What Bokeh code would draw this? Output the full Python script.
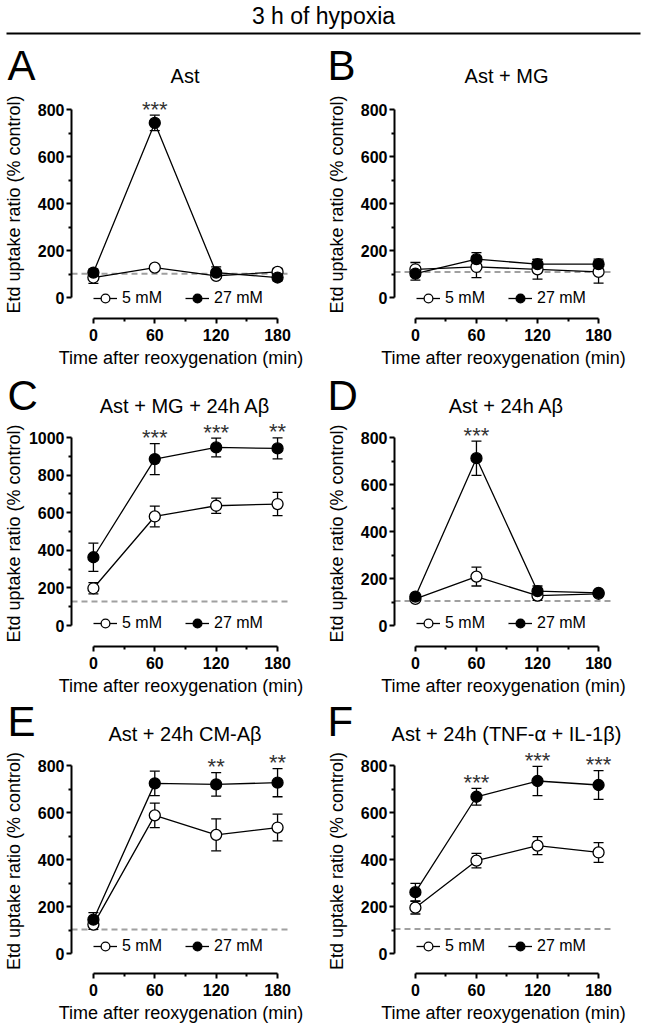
from bokeh.plotting import figure
from bokeh.models import (Range1d, FixedTicker, Label, Span, Whisker, TeeHead,
                          ColumnDataSource, Legend, LegendItem)
from bokeh.layouts import column, row
from bokeh.embed import file_html
from bokeh.resources import INLINE

FONT = "Liberation Sans"

# ---------------- data ----------------
header_text = "3 h of hypoxia"
times = [0, 60, 120, 180]
x_ticks = [0, 60, 120, 180]
x_minor = [30, 90, 150]
y_ticks_800 = [0, 200, 400, 600, 800]
y_minor_800 = [100, 300, 500, 700]
y_ticks_1000 = [0, 200, 400, 600, 800, 1000]
y_minor_1000 = [100, 300, 500, 700, 900]
series_labels = ["5 mM", "27 mM"]
letters = ["A", "B", "C", "D", "E", "F"]
titles = ["Ast", "Ast + MG", "Ast + MG + 24h A\u03b2", "Ast + 24h A\u03b2",
          "Ast + 24h CM-A\u03b2", "Ast + 24h (TNF-\u03b1 + IL-1\u03b2)"]
x_label = "Time after reoxygenation (min)"
y_label = "Etd uptake ratio (% control)"

A_5_mean = [85, 127, 92, 109]
A_5_sem = [25, 6, 10, 15]
A_27_mean = [106, 743, 106, 85]
A_27_sem = [15, 33, 24, 14]
A_ctrl = 101
A_stars = ["", "***", "", ""]

B_5_mean = [120, 130, 120, 109]
B_5_sem = [29, 45, 42, 48]
B_27_mean = [102, 163, 142, 142]
B_27_sem = [28, 28, 20, 21]
B_ctrl = 108
B_stars = ["", "", "", ""]

C_5_mean = [198, 580, 637, 646]
C_5_sem = [30, 55, 41, 62]
C_27_mean = [363, 885, 947, 942]
C_27_sem = [75, 82, 50, 56]
C_ctrl = 127
C_stars = ["", "***", "***", "**"]

D_5_mean = [113, 208, 127, 135]
D_5_sem = [10, 40, 20, 8]
D_27_mean = [123, 712, 146, 139]
D_27_sem = [8, 73, 22, 8]
D_ctrl = 104
D_stars = ["", "***", "", ""]

E_5_mean = [123, 588, 505, 536]
E_5_sem = [20, 52, 68, 57]
E_27_mean = [144, 724, 720, 727]
E_27_sem = [30, 52, 50, 60]
E_ctrl = 102
E_stars = ["", "", "**", "**"]

F_5_mean = [195, 395, 459, 430]
F_5_sem = [27, 31, 38, 42]
F_27_mean = [261, 667, 734, 717]
F_27_sem = [37, 36, 62, 61]
F_ctrl = 104
F_stars = ["", "***", "***", "***"]

panels = [
    (A_5_mean, A_5_sem, A_27_mean, A_27_sem, A_ctrl, A_stars, 800),
    (B_5_mean, B_5_sem, B_27_mean, B_27_sem, B_ctrl, B_stars, 800),
    (C_5_mean, C_5_sem, C_27_mean, C_27_sem, C_ctrl, C_stars, 1000),
    (D_5_mean, D_5_sem, D_27_mean, D_27_sem, D_ctrl, D_stars, 800),
    (E_5_mean, E_5_sem, E_27_mean, E_27_sem, E_ctrl, E_stars, 800),
    (F_5_mean, F_5_sem, F_27_mean, F_27_sem, F_ctrl, F_stars, 800),
]

# ---------------- layout geometry (page pixels) ----------------
COLS = [
    dict(fl=0, frl=70, x0=92, x1=277, frr=290, fr=323, lx=7),
    dict(fl=323, frl=393, x0=414, x1=598, frr=612, fr=646, lx=327),
]
# strip = title strip (top..bottom); the panel frame starts at the strip bottom
# let_c / tit_c: vertical centres of the letter / title
ROWS = [
    dict(st=40, sb=90, ym=109, y0=297, frb=318, fb=371, lg=9, let_c=65, tit_c=75),
    dict(st=371, sb=420, ym=437, y0=625, frb=646, fb=699, lg=12, let_c=395, tit_c=405),
    dict(st=699, sb=748, ym=765, y0=953, frb=973, fb=1030, lg=16, let_c=721, tit_c=733),
]


def make_strip(idx):
    c = COLS[idx % 2]
    r = ROWS[idx // 2]
    w = c["fr"] - c["fl"]
    h = r["sb"] - r["st"]
    s = figure(width=w, height=h, x_range=Range1d(0, w), y_range=Range1d(0, h),
               x_axis_type=None, y_axis_type=None, output_backend="svg",
               toolbar_location=None, title=None, min_border=0)
    s.outline_line_color = None
    s.grid.visible = False
    s.add_layout(Label(x=c["lx"] - c["fl"], y=r["sb"] - r["let_c"], text=letters[idx],
                       text_font=FONT, text_font_size="42px", text_color="black",
                       text_align="left", text_baseline="middle"))
    tx = (c["x0"] + c["x1"]) / 2.0 - c["fl"]
    s.add_layout(Label(x=tx, y=r["sb"] - r["tit_c"], text=titles[idx],
                       text_font=FONT, text_font_size="20px", text_color="black",
                       text_align="center", text_baseline="middle"))
    return s


def make_panel(idx):
    m5, s5, m27, s27, ctrl, stars, ymax = panels[idx]
    c = COLS[idx % 2]
    r = ROWS[idx // 2]
    kx = (c["x1"] - c["x0"]) / 180.0
    ky = (r["y0"] - r["ym"]) / float(ymax)
    xs = -(c["x0"] - c["frl"]) / kx
    xe = 180 + (c["frr"] - c["x1"]) / kx
    ys = -(r["frb"] - r["y0"]) / ky
    ye = ymax + (r["ym"] - r["sb"]) / ky

    p = figure(width=c["fr"] - c["fl"], height=r["fb"] - r["sb"],
               x_range=Range1d(xs, xe), y_range=Range1d(ys, ye),
               output_backend="svg", toolbar_location=None, title=None,
               min_border_left=c["frl"] - c["fl"], min_border_right=c["fr"] - c["frr"],
               min_border_top=0, min_border_bottom=r["fb"] - r["frb"])
    p.outline_line_color = None
    p.grid.visible = False
    p.background_fill_color = "white"
    p.border_fill_color = "white"

    xa = p.xaxis[0]
    xa.bounds = (0, 180)
    xa.ticker = FixedTicker(ticks=x_ticks, minor_ticks=x_minor)
    ya = p.yaxis[0]
    ya.bounds = (0, ymax)
    if ymax == 1000:
        ya.ticker = FixedTicker(ticks=y_ticks_1000, minor_ticks=y_minor_1000)
    else:
        ya.ticker = FixedTicker(ticks=y_ticks_800, minor_ticks=y_minor_800)
    for ax in (xa, ya):
        ax.axis_line_width = 2
        ax.axis_line_color = "black"
        ax.major_tick_line_width = 2
        ax.minor_tick_line_width = 2
        ax.major_tick_in = 0
        ax.major_tick_out = 5
        ax.minor_tick_in = 0
        ax.minor_tick_out = 3
        ax.major_label_text_font = FONT
        ax.major_label_text_font_style = "bold"
        ax.major_label_text_font_size = "16px"
        ax.major_label_text_color = "black"
        ax.axis_label_text_font = FONT
        ax.axis_label_text_font_style = "normal"
        ax.axis_label_text_font_size = "18px"
        ax.axis_label_text_color = "black"
    xa.major_label_standoff = 5
    xa.axis_label = x_label
    xa.axis_label_standoff = 4
    ya.major_label_standoff = 2
    ya.axis_label = y_label
    ya.axis_label_standoff = 2 if ymax == 1000 else 11

    p.add_layout(Span(location=ctrl, dimension="width", line_color="#a0a0a0",
                      line_dash="6 4", line_width=2, level="underlay"))

    for m, s in ((m5, s5), (m27, s27)):
        src = ColumnDataSource(dict(x=times,
                                    upper=[a + b for a, b in zip(m, s)],
                                    lower=[a - b for a, b in zip(m, s)]))
        p.add_layout(Whisker(source=src, base="x", upper="upper", lower="lower",
                             line_color="black", line_width=1.3, level="underlay",
                             upper_head=TeeHead(size=10, line_width=1.3),
                             lower_head=TeeHead(size=10, line_width=1.3)))

    l5 = p.line(times, m5, line_color="black", line_width=1.3)
    l27 = p.line(times, m27, line_color="black", line_width=1.3)
    sc5 = p.scatter(times, m5, marker="circle", size=11, fill_color="white",
                    line_color="black", line_width=1.3)
    sc27 = p.scatter(times, m27, marker="circle", size=11, fill_color="black",
                     line_color="black", line_width=1.3)

    sx = [t for t, st in zip(times, stars) if st]
    sy = [a + b for a, b, st in zip(m27, s27, stars) if st]
    stx = [st for st in stars if st]
    if sx:
        p.text(x=sx, y=sy, text=stx, text_align="center", text_baseline="middle",
               y_offset=-6, text_font_size="22px", text_color="#333333",
               text_font={"value": FONT})

    legend = Legend(items=[LegendItem(label=series_labels[0], renderers=[l5, sc5]),
                           LegendItem(label=series_labels[1], renderers=[l27, sc27])],
                    location=(22, r["lg"]), orientation="horizontal",
                    padding=0, margin=0, spacing=23, label_standoff=5,
                    glyph_width=24, glyph_height=22, label_height=22,
                    label_text_font=FONT, label_text_font_size="16px",
                    label_text_color="black",
                    border_line_color=None, background_fill_alpha=0)
    p.add_layout(legend)
    return p


hdr = figure(width=646, height=40, x_range=Range1d(0, 646), y_range=Range1d(0, 40),
             x_axis_type=None, y_axis_type=None, output_backend="svg",
             toolbar_location=None, title=None, min_border=0)
hdr.outline_line_color = None
hdr.grid.visible = False
hdr.add_layout(Label(x=323, y=25, text=header_text, text_font=FONT,
                     text_font_size="23px", text_color="black",
                     text_align="center", text_baseline="middle"))
hdr.segment(x0=[6], y0=[7], x1=[640], y1=[7], line_color="black", line_width=2)

strips = [make_strip(i) for i in range(6)]
figs = [make_panel(i) for i in range(6)]
layout = column(hdr,
                row(strips[0], strips[1]), row(figs[0], figs[1]),
                row(strips[2], strips[3]), row(figs[2], figs[3]),
                row(strips[4], strips[5]), row(figs[4], figs[5]))

open("out.html", "w").write(file_html(layout, INLINE))
